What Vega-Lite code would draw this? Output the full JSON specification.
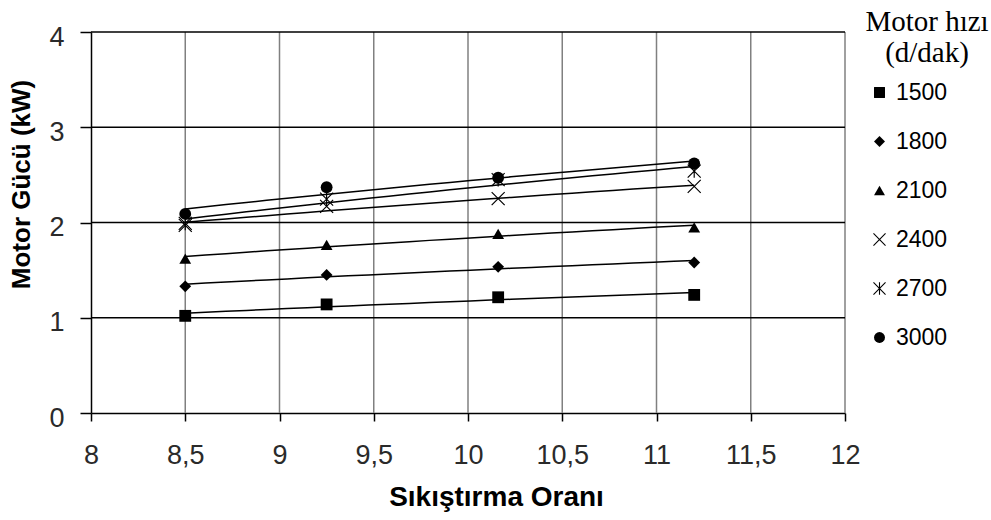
{
  "$schema": "https://vega.github.io/schema/vega-lite/v6.json",
  "autosize": "none",
  "width": 754,
  "height": 381,
  "padding": {"left": 91, "top": 32, "right": 146, "bottom": 107},
  "background": "white",
  "title": {
    "text": ["Motor hızı", "(d/dak)"],
    "anchor": "end", "frame": "group", "align": "center", "baseline": "alphabetic",
    "offset": 0, "dx": 82, "dy": 68,
    "font": "Liberation Serif", "fontSize": 29, "fontWeight": "normal", "lineHeight": 31.5, "color": "black"
  },
  "config": {
    "locale": {"number": {"decimal": ",", "thousands": ".", "grouping": [3], "currency": ["", ""]}},
    "view": {"stroke": null},
    "font": "Liberation Sans",
    "axis": {"grid": false, "domainColor": "black", "domainWidth": 1.5, "tickColor": "black", "tickWidth": 1.5,
      "labelFontSize": 27, "labelColor": "#2a2a2a", "labelFont": "Liberation Sans", "titleFont": "Liberation Sans",
      "titleFontWeight": "bold", "titleColor": "black"},
    "axisX": {"tickSize": 8, "labelPadding": 34, "labelBaseline": "middle", "titleFontSize": 28,
      "titleX": 405, "titleY": 92, "titleBaseline": "alphabetic", "titleAlign": "center", "labelFlush": false},
    "axisY": {"tickSize": 11, "labelPadding": 16, "labelBaseline": "middle", "labelOffset": 5, "titleFontSize": 26,
      "titleX": -70, "titleY": 152, "titleBaseline": "middle", "titleAlign": "center"}
  },
  "data": {
    "values": [
      {"oran": 8.5, "guc": 1.02, "hiz": "1500"},
      {"oran": 9.25, "guc": 1.14, "hiz": "1500"},
      {"oran": 10.16, "guc": 1.215, "hiz": "1500"},
      {"oran": 11.2, "guc": 1.24, "hiz": "1500"},
      {"oran": 8.5, "guc": 1.33, "hiz": "1800"},
      {"oran": 9.25, "guc": 1.45, "hiz": "1800"},
      {"oran": 10.16, "guc": 1.535, "hiz": "1800"},
      {"oran": 11.2, "guc": 1.58, "hiz": "1800"},
      {"oran": 8.5, "guc": 1.62, "hiz": "2100"},
      {"oran": 9.25, "guc": 1.765, "hiz": "2100"},
      {"oran": 10.16, "guc": 1.88, "hiz": "2100"},
      {"oran": 11.2, "guc": 1.95, "hiz": "2100"},
      {"oran": 8.5, "guc": 1.97, "hiz": "2400"},
      {"oran": 9.25, "guc": 2.17, "hiz": "2400"},
      {"oran": 10.16, "guc": 2.25, "hiz": "2400"},
      {"oran": 11.2, "guc": 2.38, "hiz": "2400"},
      {"oran": 8.5, "guc": 1.99, "hiz": "2700"},
      {"oran": 9.25, "guc": 2.245, "hiz": "2700"},
      {"oran": 10.16, "guc": 2.45, "hiz": "2700"},
      {"oran": 11.2, "guc": 2.54, "hiz": "2700"},
      {"oran": 8.5, "guc": 2.09, "hiz": "3000"},
      {"oran": 9.25, "guc": 2.37, "hiz": "3000"},
      {"oran": 10.16, "guc": 2.47, "hiz": "3000"},
      {"oran": 11.2, "guc": 2.62, "hiz": "3000"}
    ]
  },
  "layer": [
    {
      "mark": {"type": "rule", "color": "#808080", "strokeWidth": 1.5},
      "data": {"values": [{"oran": 8.5}, {"oran": 9}, {"oran": 9.5}, {"oran": 10}, {"oran": 10.5}, {"oran": 11}, {"oran": 11.5}, {"oran": 12}]},
      "encoding": {"x": {"field": "oran", "type": "quantitative",
        "scale": {"domain": [8, 12], "nice": false, "zero": false},
        "axis": {"title": "Sıkıştırma Oranı", "values": [8, 8.5, 9, 9.5, 10, 10.5, 11, 11.5, 12], "format": "~f"}}}
    },
    {
      "mark": {"type": "rule", "color": "black", "strokeWidth": 1.5},
      "data": {"values": [{"guc": 1}, {"guc": 2}, {"guc": 3}, {"guc": 4}]},
      "encoding": {"y": {"field": "guc", "type": "quantitative",
        "scale": {"domain": [0, 4], "nice": false},
        "axis": {"title": "Motor  Gücü (kW)", "values": [0, 1, 2, 3, 4], "format": "d"}}}
    },
    {
      "transform": [
        {"regression": "guc", "on": "oran", "groupby": ["hiz"], "method": "log", "extent": [8.5, 11.2]}
      ],
      "mark": {"type": "line", "color": "black", "strokeWidth": 1.5},
      "encoding": {
        "x": {"field": "oran", "type": "quantitative",
          "axis": {"title": "Sıkıştırma Oranı", "values": [8, 8.5, 9, 9.5, 10, 10.5, 11, 11.5, 12], "format": "~f"}},
        "y": {"field": "guc", "type": "quantitative",
          "axis": {"title": "Motor  Gücü (kW)", "values": [0, 1, 2, 3, 4], "format": "d"}},
        "detail": {"field": "hiz", "type": "nominal"}
      }
    },
    {
      "mark": {"type": "point", "filled": true, "fill": "black", "strokeWidth": 0, "opacity": 1, "size": 140},
      "encoding": {
        "x": {"field": "oran", "type": "quantitative",
          "axis": {"title": "Sıkıştırma Oranı", "values": [8, 8.5, 9, 9.5, 10, 10.5, 11, 11.5, 12], "format": "~f"}},
        "y": {"field": "guc", "type": "quantitative",
          "axis": {"title": "Motor  Gücü (kW)", "values": [0, 1, 2, 3, 4], "format": "d"}},
        "shape": {
          "field": "hiz", "type": "nominal",
          "scale": {
            "domain": ["1500", "1800", "2100", "2400", "2700", "3000"],
            "range": ["square", "diamond", "triangle-up",
              "M-1.03,-1.17L1.17,1.03L1.03,1.17L-1.17,-1.03ZM-1.17,1.03L1.03,-1.17L1.17,-1.03L-1.03,1.17Z",
              "M-1.03,-1.17L1.17,1.03L1.03,1.17L-1.17,-1.03ZM-1.17,1.03L1.03,-1.17L1.17,-1.03L-1.03,1.17ZM0.1,-1.15L0.1,1.15L-0.1,1.15L-0.1,-1.15Z",
              "circle"]
          },
          "legend": {
            "title": null,
            "orient": "none", "legendX": 777, "legendY": 49,
            "labelFont": "Liberation Sans", "labelFontSize": 23, "labelColor": "black", "labelOffset": 5,
            "symbolSize": 120, "symbolFillColor": "black", "symbolStrokeWidth": 0,
            "rowPadding": 25, "labelLimit": 200
          }
        }
      }
    }
  ]
}
